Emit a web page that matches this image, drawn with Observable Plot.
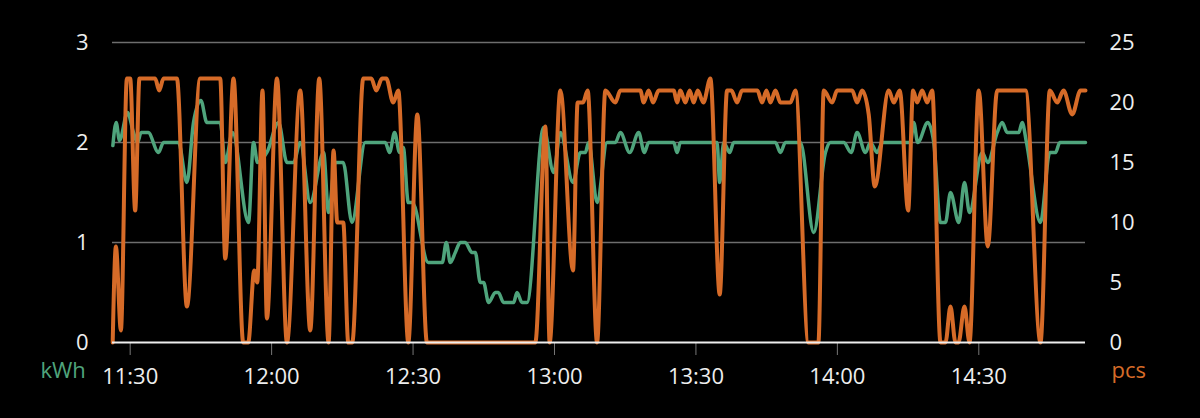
<!DOCTYPE html>
<html>
<head>
<meta charset="utf-8">
<script src="https://cdn.jsdelivr.net/npm/d3@7"></script>
<script src="https://cdn.jsdelivr.net/npm/@observablehq/plot@0.6"></script>
<style>
  html, body { margin: 0; padding: 0; background: #000; }
  #chart svg { display: block; }
</style>
</head>
<body>
<div id="chart"></div>
<script>
// Minutes after 11:00 for each reading
const greenMinutes = [26.33,27.03,27.73,29.43,30.70,31.55,32.33,33.82,36.00,37.07,40.25,42.03,43.43,45.00,46.27,49.10,50.16,51.71,55.10,56.16,57.01,59.00,61.47,63.25,64.65,66.07,68.19,71.02,72.08,73.50,75.19,77.04,79.86,84.11,85.02,86.08,87.14,87.93,88.99,89.84,93.23,96.20,97.05,97.90,98.96,100.02,101.08,102.50,103.20,104.26,104.96,106.02,107.45,108.08,109.21,111.33,112.05,113.11,114.17,117.69,119.82,121.24,123.93,125.48,126.54,127.24,129.03,131.15,132.91,133.97,135.94,137.85,139.06,139.97,145.28,146.00,146.70,154.49,155.04,155.89,157.16,158.01,166.86,167.92,168.98,172.16,174.98,177.47,178.53,181.35,182.92,184.19,185.95,187.01,188.44,189.50,195.50,196.20,197.05,199.17,200.45,201.87,202.93,203.99,205.75,206.96,208.02,210.71,211.90,213.90,214.96,216.02,218.48,219.20,220.11,223.08,225.06,226.27,227.18,232.63];
// Energy, kWh
const greenValues = [1.97,2.2,2.02,2.3,2.1,2.0,2.1,2.1,1.9,2.0,2.0,1.6,2.2,2.42,2.2,2.2,1.8,2.1,1.2,2.0,1.8,1.9,2.2,1.8,1.8,2.0,1.4,1.9,1.3,1.8,1.8,1.2,2.0,2.0,1.9,2.1,1.9,1.95,1.4,1.4,0.8,0.8,1.0,0.8,0.9,1.0,1.0,0.9,0.9,0.6,0.6,0.4,0.5,0.5,0.4,0.4,0.5,0.4,0.4,2.15,1.7,2.1,1.6,1.9,1.9,2.0,1.4,2.0,2.0,2.1,1.9,2.1,1.9,2.0,2.0,1.9,2.0,2.0,1.6,2.0,1.9,2.0,2.0,1.9,2.0,2.0,1.1,1.9,2.0,2.0,1.9,2.1,1.9,2.0,1.9,2.0,2.0,2.2,2.0,2.2,2.0,1.2,1.2,1.5,1.2,1.6,1.3,1.9,1.8,2.1,2.2,2.1,2.1,2.2,2.0,1.2,1.9,1.9,2.0,2.0];

const orangeMinutes = [26.29,26.97,28.03,29.30,30.00,31.06,31.97,35.30,36.15,37.07,39.91,42.03,44.85,49.10,50.16,51.92,53.98,55.04,56.31,56.95,58.07,59.00,61.13,63.25,66.07,68.19,70.10,72.08,73.14,73.92,75.19,76.26,77.10,79.44,81.14,82.20,83.41,84.32,85.80,86.86,88.99,90.90,92.95,115.93,118.06,118.97,121.24,123.93,124.91,126.05,127.03,129.03,130.79,132.91,133.97,138.21,138.91,139.97,140.91,142.10,145.28,146.00,146.70,147.76,148.67,149.52,150.37,151.58,153.06,155.04,156.61,157.52,158.73,159.79,163.04,164.03,164.95,165.80,166.86,167.92,170.04,171.10,173.86,175.98,177.11,178.89,179.95,183.13,184.19,185.25,186.65,187.93,190.90,191.96,193.23,195.01,196.07,196.92,197.98,199.04,200.11,201.87,202.93,203.99,205.05,205.69,206.96,208.02,209.99,211.90,213.90,219.90,223.08,225.06,226.63,227.97,229.81,231.57,232.63];
// Pieces
const orangeValues = [0,8,1,22,22,11,22,22,21,22,22,3,22,22,7,22,0,0,6,5,21,2,22,0,21,1,22,0,16,10,10,0,0,22,22,21,22,22,20,21,0,19,0,0,18,0,21,6,20,20,21,0,21,20,21,21,20,21,20,21,21,20,21,20,21,20,21,20,22,4,21,21,20,21,21,20,21,20,21,20,20,21,0,0,21,20,21,21,20,21,19,13,21,20,21,11,21,20,21,20,21,0,0,3,0,0,3,0,21,8,21,21,0,21,20,21,19,21,21];

const kwhTicks = [0, 1, 2, 3];
const pcsTicks = [0, 5, 10, 15, 20, 25];
const timeTickLabels = ["11:30", "12:00", "12:30", "13:00", "13:30", "14:00", "14:30"];
const domainMinutes = [26.25, 232.63];

const kwhMax = 3, pcsMax = 25;
const GREEN = "#4fa47c", ORANGE = "#d66b28";

const base = Date.UTC(2024, 0, 1, 11, 0);
const toDate = m => new Date(base + m * 60000);
const parseTick = s => { const [h, mm] = s.split(":").map(Number); return new Date(Date.UTC(2024, 0, 1, h, mm)); };

const green = greenMinutes.map((m, i) => ({t: toDate(m), v: greenValues[i]}));
const orange = orangeMinutes.map((m, i) => ({t: toDate(m), v: orangeValues[i]}));
const toKwh = p => p * kwhMax / pcsMax;

const chart = Plot.plot({
  width: 1200,
  height: 418,
  marginTop: 42,
  marginBottom: 76,
  marginLeft: 112,
  marginRight: 115,
  style: {background: "#000", color: "#eee", fontFamily: "'Open Sans', 'Noto Sans', sans-serif", fontSize: "22px"},
  x: {type: "utc", domain: domainMinutes.map(toDate)},
  y: {domain: [0, kwhMax]},
  marks: [
    Plot.ruleY(kwhTicks.filter(d => d > 0), {stroke: "#6e6e6e", strokeWidth: 1.5}),
    Plot.axisY(kwhTicks, {tickSize: 0, tickPadding: 24, fill: "#eee", label: null, tickFormat: d => String(d)}),
    Plot.text(pcsTicks, {y: d => toKwh(d), text: d => String(d), frameAnchor: "right", dx: 24, textAnchor: "start", fill: "#eee"}),
    Plot.axisX(timeTickLabels.map(parseTick), {tickSize: 13, tickPadding: 13, stroke: "#777", fill: "#eee", label: null, tickFormat: d3.utcFormat("%H:%M")}),
    Plot.lineY(green, {x: "t", y: "v", curve: "monotone-x", stroke: GREEN, strokeWidth: 3.5}),
    Plot.lineY(orange, {x: "t", y: d => toKwh(d.v), curve: "monotone-x", stroke: ORANGE, strokeWidth: 4}),
    Plot.ruleY([0], {stroke: "#eee", strokeWidth: 2}),
    Plot.text(["kWh"], {frameAnchor: "bottom-left", dx: -72, dy: 35, textAnchor: "start", fill: GREEN}),
    Plot.text(["pcs"], {frameAnchor: "bottom-right", dx: 26, dy: 35, textAnchor: "start", fill: ORANGE})
  ]
});
document.getElementById("chart").append(chart);
</script>
</body>
</html>
